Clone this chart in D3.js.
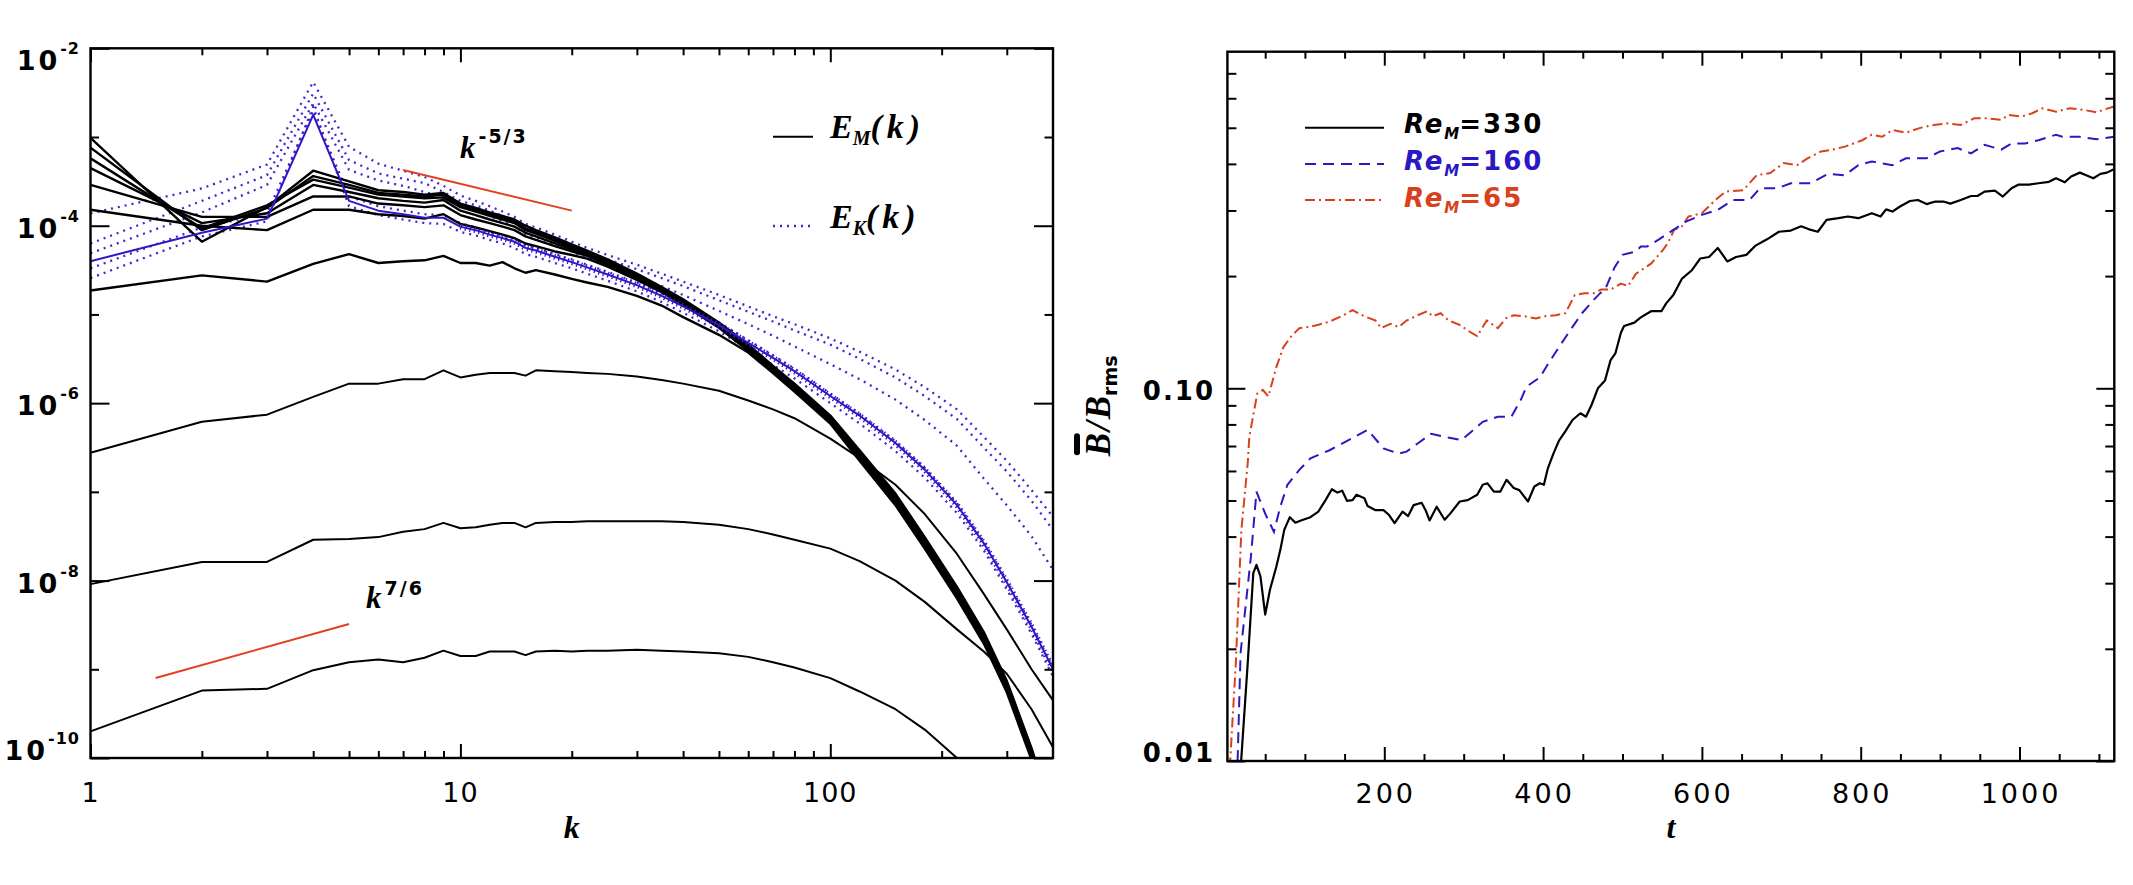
<!DOCTYPE html>
<html><head><meta charset="utf-8">
<script src="https://cdn.jsdelivr.net/npm/d3@7/dist/d3.min.js"></script>
<style>html,body{margin:0;padding:0;background:#fff;}svg{display:block;}</style>
</head><body>
<svg id="chart" width="2133" height="885"></svg>
<script>
// ================= DATA =================
// Left panel: wavenumber samples and log10 of the spectral energy
const kSamples = [1,2,3,4,5,6,7,8,9,10,11,12,13,14,15,16,18,20,22,25,30,35,40,50,60,70,80,100,120,150,180,220,260,300,350,400];
// magnetic spectra E_M(k) (black solid), log10 values
const logEM1 = [-3.01,-4.18,-3.79,-3.38,-3.50,-3.60,-3.62,-3.65,-3.63,-3.75,-3.80,-3.85,-3.89,-3.93,-4.00,-4.05,-4.13,-4.21,-4.28,-4.38,-4.54,-4.69,-4.83,-5.09,-5.34,-5.58,-5.78,-6.14,-6.53,-7.02,-7.51,-8.07,-8.58,-9.13,-9.89,-10.64];
const logEM2 = [-3.12,-4.05,-3.80,-3.44,-3.54,-3.63,-3.65,-3.67,-3.65,-3.77,-3.82,-3.87,-3.91,-3.95,-4.03,-4.07,-4.15,-4.23,-4.30,-4.40,-4.56,-4.70,-4.84,-5.11,-5.36,-5.60,-5.80,-6.16,-6.55,-7.04,-7.53,-8.09,-8.60,-9.15,-9.91,-10.66];
const logEM3 = [-3.24,-4.03,-3.77,-3.48,-3.57,-3.65,-3.67,-3.69,-3.68,-3.79,-3.84,-3.89,-3.93,-3.97,-4.05,-4.09,-4.17,-4.25,-4.31,-4.41,-4.57,-4.71,-4.85,-5.12,-5.37,-5.61,-5.81,-6.17,-6.57,-7.06,-7.55,-8.11,-8.62,-9.17,-9.93,-10.68];
const logEM4 = [-3.35,-3.97,-3.86,-3.54,-3.62,-3.69,-3.72,-3.74,-3.71,-3.83,-3.88,-3.93,-3.97,-4.01,-4.08,-4.12,-4.20,-4.27,-4.32,-4.42,-4.58,-4.72,-4.86,-5.13,-5.38,-5.62,-5.82,-6.18,-6.58,-7.08,-7.57,-8.13,-8.64,-9.19,-9.95,-10.70];
const logEM5 = [-3.54,-3.90,-3.90,-3.67,-3.67,-3.75,-3.77,-3.79,-3.77,-3.88,-3.93,-3.97,-4.01,-4.05,-4.12,-4.16,-4.23,-4.29,-4.34,-4.44,-4.59,-4.73,-4.87,-5.14,-5.39,-5.63,-5.83,-6.19,-6.60,-7.10,-7.59,-8.15,-8.66,-9.21,-9.97,-10.72];
const logEM6 = [-3.82,-4.00,-4.05,-3.82,-3.82,-3.87,-3.89,-3.92,-3.87,-3.98,-4.02,-4.06,-4.10,-4.14,-4.20,-4.23,-4.29,-4.33,-4.37,-4.46,-4.61,-4.75,-4.89,-5.15,-5.41,-5.65,-5.85,-6.21,-6.62,-7.12,-7.61,-8.17,-8.68,-9.23,-9.99,-10.74];
const logEM7 = [-4.73,-4.56,-4.63,-4.43,-4.32,-4.42,-4.40,-4.39,-4.34,-4.42,-4.42,-4.45,-4.41,-4.48,-4.53,-4.50,-4.55,-4.60,-4.64,-4.69,-4.79,-4.90,-5.03,-5.23,-5.43,-5.66,-5.87,-6.23,-6.65,-7.15,-7.64,-8.20,-8.71,-9.26,-10.02,-10.77];
const logEM8 = [-6.56,-6.21,-6.13,-5.93,-5.78,-5.78,-5.73,-5.73,-5.63,-5.71,-5.68,-5.66,-5.66,-5.66,-5.69,-5.63,-5.64,-5.65,-5.66,-5.67,-5.70,-5.74,-5.78,-5.86,-5.97,-6.07,-6.17,-6.40,-6.62,-6.92,-7.25,-7.70,-8.15,-8.55,-9.00,-9.35];
const logEM9 = [-8.04,-7.79,-7.79,-7.54,-7.53,-7.51,-7.45,-7.42,-7.35,-7.41,-7.40,-7.37,-7.35,-7.35,-7.40,-7.35,-7.34,-7.34,-7.33,-7.33,-7.33,-7.33,-7.34,-7.37,-7.42,-7.48,-7.54,-7.64,-7.78,-8.00,-8.24,-8.55,-8.80,-9.05,-9.45,-9.88];
const logEM10 = [-9.70,-9.24,-9.22,-9.01,-8.92,-8.89,-8.92,-8.87,-8.79,-8.85,-8.85,-8.80,-8.80,-8.80,-8.84,-8.80,-8.79,-8.80,-8.79,-8.79,-8.78,-8.79,-8.80,-8.82,-8.86,-8.92,-8.98,-9.10,-9.25,-9.45,-9.68,-10.00,-10.30,-10.60,-11.00,-11.40];
// kinetic spectra E_K(k): blue solid (with + symbols) and blue dotted, log10 values
const logEKsolid = [-4.40,-4.08,-3.92,-2.75,-3.72,-3.83,-3.87,-3.91,-3.91,-4.01,-4.05,-4.10,-4.14,-4.18,-4.25,-4.28,-4.35,-4.41,-4.47,-4.55,-4.67,-4.79,-4.91,-5.12,-5.32,-5.49,-5.64,-5.92,-6.14,-6.45,-6.75,-7.15,-7.58,-8.02,-8.52,-9.00];
const logEK1 = [-3.86,-3.58,-3.31,-2.38,-3.11,-3.30,-3.38,-3.45,-3.55,-3.66,-3.72,-3.78,-3.84,-3.90,-3.98,-4.02,-4.10,-4.18,-4.25,-4.33,-4.44,-4.54,-4.63,-4.78,-4.91,-5.02,-5.11,-5.27,-5.42,-5.62,-5.82,-6.07,-6.38,-6.65,-6.98,-7.28];
const logEK2 = [-4.20,-3.72,-3.43,-2.51,-3.26,-3.41,-3.47,-3.52,-3.62,-3.72,-3.77,-3.83,-3.89,-3.95,-4.03,-4.07,-4.15,-4.23,-4.30,-4.38,-4.49,-4.59,-4.68,-4.84,-4.97,-5.08,-5.18,-5.34,-5.50,-5.71,-5.92,-6.18,-6.50,-6.77,-7.10,-7.43];
const logEK3 = [-4.31,-3.85,-3.54,-2.62,-3.37,-3.49,-3.55,-3.62,-3.67,-3.78,-3.83,-3.89,-3.95,-4.01,-4.09,-4.13,-4.21,-4.29,-4.36,-4.45,-4.57,-4.68,-4.78,-4.96,-5.11,-5.24,-5.36,-5.56,-5.73,-5.96,-6.19,-6.48,-6.85,-7.15,-7.50,-7.88];
const logEK4 = [-4.48,-4.02,-3.86,-2.70,-3.67,-3.78,-3.83,-3.87,-3.88,-3.97,-4.02,-4.07,-4.11,-4.15,-4.22,-4.25,-4.32,-4.38,-4.44,-4.52,-4.64,-4.76,-4.88,-5.09,-5.29,-5.46,-5.61,-5.89,-6.12,-6.43,-6.73,-7.13,-7.56,-8.00,-8.50,-8.98];
const logEK5 = [-4.59,-4.12,-3.95,-2.66,-3.78,-3.88,-3.93,-3.97,-3.98,-4.07,-4.11,-4.16,-4.20,-4.25,-4.32,-4.35,-4.42,-4.48,-4.54,-4.62,-4.74,-4.86,-4.98,-5.19,-5.39,-5.57,-5.72,-6.00,-6.23,-6.54,-6.84,-7.24,-7.66,-8.10,-8.60,-9.08];
// reference power-law segments
const slopeMinus53K = [7, 20];
const slopeMinus53E = [4.25e-4, 1.48e-4];
const slope76K = [1.5, 5];
const slope76E = [7.96e-10, 3.24e-9];

// Right panel: time series of Bbar/Brms
const tRe330 = [19,28,35,39,44,50,56,64,69,74,81,88,95,107,117,126,134,141,147,153,160,165,175,179,189,199,206,213,223,230,237,247,252,257,266,276,283,295,305,317,324,330,338,346,354,363,370,381,389,396,401,406,413,420,428,437,447,454,461,469,478,485,491,498,502,515,523,536,549,555,564,575,587,598,609,620,632,643,656,667,682,697,712,725,735,746,757,772,784,797,814,825,832,840,849,862,872,883,894,904,913,926,939,947,956,969,979,990,999,1012,1024,1037,1046,1057,1065,1076,1084,1093,1102,1110,1119];
const bRe330 = [0.0095,0.0183,0.0319,0.0336,0.0313,0.0247,0.0288,0.0332,0.0368,0.0417,0.0451,0.0436,0.0442,0.0451,0.0467,0.0501,0.0536,0.0525,0.0531,0.0499,0.0501,0.0518,0.0507,0.0483,0.0471,0.0471,0.0457,0.0435,0.0467,0.0454,0.0486,0.0493,0.0471,0.0442,0.0481,0.0444,0.0461,0.0497,0.0501,0.0518,0.0551,0.0556,0.0528,0.0528,0.0568,0.0540,0.0533,0.0497,0.0545,0.0556,0.0551,0.0610,0.0668,0.0724,0.0766,0.0822,0.0857,0.0839,0.0902,0.100,0.105,0.119,0.124,0.141,0.147,0.150,0.155,0.161,0.161,0.169,0.178,0.197,0.207,0.223,0.225,0.238,0.219,0.225,0.228,0.241,0.251,0.263,0.265,0.272,0.267,0.263,0.283,0.286,0.289,0.286,0.295,0.289,0.302,0.298,0.307,0.318,0.320,0.312,0.317,0.317,0.313,0.320,0.328,0.328,0.337,0.339,0.327,0.344,0.352,0.352,0.355,0.358,0.366,0.357,0.370,0.379,0.373,0.366,0.376,0.379,0.387];
const tRe160 = [14,19,32,39,50,61,69,78,93,107,131,155,179,199,218,228,242,259,276,297,310,324,343,360,372,379,396,406,420,435,449,464,472,478,490,500,517,523,531,546,564,580,600,620,639,660,673,695,712,737,759,780,797,814,840,857,883,900,922,939,956,977,990,1007,1024,1046,1054,1076,1097,1119];
const bRe160 = [0.008,0.0195,0.0353,0.0528,0.0461,0.0412,0.0481,0.0551,0.0604,0.0649,0.0682,0.0726,0.0773,0.0690,0.0668,0.0676,0.0711,0.0755,0.0741,0.0726,0.0766,0.0813,0.0839,0.0839,0.0931,0.101,0.107,0.116,0.129,0.144,0.159,0.173,0.180,0.184,0.211,0.228,0.233,0.240,0.240,0.251,0.266,0.280,0.292,0.301,0.320,0.320,0.344,0.344,0.355,0.355,0.376,0.373,0.397,0.406,0.397,0.414,0.414,0.432,0.441,0.427,0.450,0.437,0.454,0.454,0.463,0.479,0.473,0.473,0.466,0.473];
const tRe65 = [4,13,20,28,30,40,47,54,64,73,83,93,105,117,131,146,160,175,189,196,208,218,228,242,254,261,271,281,295,307,317,329,343,353,363,377,391,401,416,428,440,452,464,473,485,498,507,517,536,551,557,565,575,583,600,617,630,652,669,686,703,720,733,750,763,780,802,814,827,840,857,874,892,909,926,943,960,977,986,1003,1016,1029,1046,1063,1080,1097,1106,1119];
const bRe65 = [0.0085,0.0183,0.0417,0.0630,0.0741,0.0968,0.0991,0.0951,0.114,0.129,0.138,0.145,0.146,0.148,0.151,0.156,0.162,0.156,0.152,0.145,0.149,0.146,0.152,0.157,0.161,0.156,0.159,0.152,0.148,0.142,0.138,0.152,0.145,0.154,0.157,0.156,0.154,0.156,0.157,0.159,0.178,0.180,0.180,0.184,0.184,0.191,0.188,0.203,0.216,0.235,0.245,0.266,0.272,0.289,0.295,0.320,0.337,0.340,0.373,0.378,0.402,0.397,0.414,0.432,0.436,0.445,0.463,0.479,0.473,0.493,0.485,0.499,0.509,0.514,0.509,0.530,0.530,0.525,0.541,0.536,0.547,0.564,0.552,0.564,0.559,0.550,0.559,0.570];

// ticks and labels
const kMajorTicks = [1,10,100];
const kTickLabels = ["1","10","100"];
const kMinorTicks = [2,3,4,5,6,7,8,9,20,30,40,50,60,70,80,90,200,300];
const eMajorTicks = [1e-2,1e-4,1e-6,1e-8,1e-10];
const eExpLabels = ["-2","-4","-6","-8","-10"];
const eMinorTicks = [1e-3,1e-5,1e-7,1e-9];
const tMajorTicks = [200,400,600,800,1000];
const tTickLabels = ["200","400","600","800","1000"];
const tMinorTicks = [50,100,150,250,300,350,450,500,550,650,700,750,850,900,950,1050,1100];
const bMajorTicks = [0.01,0.1];
const bTickLabels = ["0.01","0.10"];
const bMinorTicks = [0.02,0.03,0.04,0.05,0.06,0.07,0.08,0.09,0.2,0.3,0.4,0.5,0.6,0.7];
const rightLegend = ["330","160","65"];

// ================= DRAWING =================
const svg = d3.select('#chart');
const L = {left:90.5, right:1053, top:48.3, bottom:758};
const R = {left:1227.4, right:2114.3, top:51.7, bottom:761};
const BLUE = '#3416c8', BLUE_DOT = '#3c28d2', RED = '#e2401f', RED2 = '#d9401c', BLUE2 = '#2a18c2';
const SERIF = "'Liberation Serif','DejaVu Serif',serif";
const SANS = "'DejaVu Sans','Liberation Sans',sans-serif";

const kx = d3.scaleLog().domain([1,400]).range([L.left,L.right]);
const ey = d3.scaleLog().domain([1e-10,1e-2]).range([L.bottom,L.top]);
const tx = d3.scaleLinear().domain([2.4,1119.4]).range([R.left,R.right]);
const by = d3.scaleLog().domain([0.01,0.8]).range([R.bottom,R.top]);

const defs = svg.append('defs');
[['clipL',L],['clipR',R]].forEach(([id,b])=>{
  defs.append('clipPath').attr('id',id).append('rect')
    .attr('x',b.left).attr('y',b.top).attr('width',b.right-b.left).attr('height',b.bottom-b.top);
});

const toPts = (ks, logs) => ks.map((k,i)=>[k, Math.pow(10, logs[i])]);
const lineL = d3.line().x(d=>kx(d[0])).y(d=>ey(d[1]));
const lineR = d3.line().x(d=>tx(d[0])).y(d=>by(d[1]));

// ---- left panel curves ----
const gL = svg.append('g').attr('clip-path','url(#clipL)');
[logEK1,logEK2,logEK3,logEK4,logEK5].forEach(arr=>{
  gL.append('path').attr('d', lineL(toPts(kSamples,arr)))
    .attr('fill','none').attr('stroke',BLUE_DOT).attr('stroke-width',2.3)
    .attr('stroke-dasharray','2,5');
});
[logEM8,logEM9,logEM10].forEach(arr=>{
  gL.append('path').attr('d', lineL(toPts(kSamples,arr)))
    .attr('fill','none').attr('stroke','#000').attr('stroke-width',2).attr('stroke-linejoin','round');
});
[logEM1,logEM2,logEM3,logEM4,logEM5,logEM6,logEM7].forEach(arr=>{
  gL.append('path').attr('d', lineL(toPts(kSamples,arr)))
    .attr('fill','none').attr('stroke','#000').attr('stroke-width',2.4).attr('stroke-linejoin','round');
});
const ekSolidPts = toPts(kSamples, logEKsolid);
gL.append('path').attr('d', lineL(ekSolidPts))
  .attr('fill','none').attr('stroke',BLUE).attr('stroke-width',2).attr('stroke-linejoin','round');
// + symbols along the solid kinetic spectrum
gL.append('path').attr('d', lineL(ekSolidPts.filter(d=>d[0]>=10)))
  .attr('fill','none').attr('stroke',BLUE).attr('stroke-width',6).attr('stroke-dasharray','1.3,3.4');
// reference slopes
gL.append('path').attr('d', lineL(slopeMinus53K.map((k,i)=>[k,slopeMinus53E[i]])))
  .attr('stroke',RED).attr('stroke-width',2).attr('fill','none');
gL.append('path').attr('d', lineL(slope76K.map((k,i)=>[k,slope76E[i]])))
  .attr('stroke',RED).attr('stroke-width',2).attr('fill','none');

// ---- right panel curves ----
const gR = svg.append('g').attr('clip-path','url(#clipR)');
gR.append('path').attr('d', lineR(tRe65.map((t,i)=>[t,bRe65[i]])))
  .attr('fill','none').attr('stroke',RED2).attr('stroke-width',2).attr('stroke-dasharray','10,4,2,4');
gR.append('path').attr('d', lineR(tRe160.map((t,i)=>[t,bRe160[i]])))
  .attr('fill','none').attr('stroke',BLUE2).attr('stroke-width',2).attr('stroke-dasharray','11,7');
gR.append('path').attr('d', lineR(tRe330.map((t,i)=>[t,bRe330[i]])))
  .attr('fill','none').attr('stroke','#000').attr('stroke-width',2.2).attr('stroke-linejoin','round');

// ---- axes (ticks pointing inward) ----
function ticks(box, xs, ys, xMaj, xMin, yMaj, yMin, lx, lxm, ly, lym){
  const g = svg.append('g');
  const specs = [
    [d3.axisBottom(xs).tickValues(xMaj).tickSize(-lx), `translate(0,${box.bottom})`],
    [d3.axisBottom(xs).tickValues(xMin).tickSize(-lxm), `translate(0,${box.bottom})`],
    [d3.axisTop(xs).tickValues(xMaj).tickSize(-lx), `translate(0,${box.top})`],
    [d3.axisTop(xs).tickValues(xMin).tickSize(-lxm), `translate(0,${box.top})`],
    [d3.axisLeft(ys).tickValues(yMaj).tickSize(-ly), `translate(${box.left},0)`],
    [d3.axisLeft(ys).tickValues(yMin).tickSize(-lym), `translate(${box.left},0)`],
    [d3.axisRight(ys).tickValues(yMaj).tickSize(-ly), `translate(${box.right},0)`],
    [d3.axisRight(ys).tickValues(yMin).tickSize(-lym), `translate(${box.right},0)`]
  ];
  specs.forEach(([ax,tr])=>{
    const a = g.append('g').attr('transform',tr).call(ax.tickSizeOuter(0).tickFormat(''));
    a.select('.domain').remove();
    a.selectAll('text').remove();
    a.selectAll('line').attr('stroke','#000').attr('stroke-width',2);
  });
  g.append('rect').attr('x',box.left).attr('y',box.top).attr('width',box.right-box.left)
    .attr('height',box.bottom-box.top).attr('fill','none').attr('stroke','#000').attr('stroke-width',2.4);
}
ticks(L, kx, ey, kMajorTicks, kMinorTicks, eMajorTicks, eMinorTicks, 14, 7, 19, 8.5);
ticks(R, tx, by, tMajorTicks, tMinorTicks, bMajorTicks, bMinorTicks, 14, 7, 18, 9);

// ---- tick labels ----
kMajorTicks.forEach((v,i)=>{
  svg.append('text').attr('x',kx(v)).attr('y',802).attr('text-anchor','middle')
    .attr('font-family',SANS).attr('font-size',27).attr('letter-spacing',1).text(kTickLabels[i]);
});
eMajorTicks.forEach((v,i)=>{
  const yb = Math.min(Math.max(ey(v)+12, L.top+22), L.bottom+2);
  const t = svg.append('text').attr('x',80).attr('y',yb).attr('text-anchor','end')
    .attr('font-family',SANS).attr('font-weight','bold').attr('font-size',27);
  t.append('tspan').attr('letter-spacing',3).text('10');
  t.append('tspan').attr('font-size',16).attr('dy',-16).attr('letter-spacing',1).text(eExpLabels[i]);
});
tMajorTicks.forEach((v,i)=>{
  svg.append('text').attr('x',tx(v)+1.5).attr('y',803).attr('text-anchor','middle')
    .attr('font-family',SANS).attr('font-size',27).attr('letter-spacing',3).text(tTickLabels[i]);
});
bMajorTicks.forEach((v,i)=>{
  const yb = Math.min(by(v)+12, R.bottom+1);
  svg.append('text').attr('x',1215).attr('y',yb).attr('text-anchor','end')
    .attr('font-family',SANS).attr('font-weight','bold').attr('font-size',26).attr('letter-spacing',2).text(bTickLabels[i]);
});

// ---- axis titles ----
svg.append('text').attr('x',(L.left+L.right)/2).attr('y',838).attr('text-anchor','middle')
  .attr('font-family',SERIF).attr('font-weight','bold').attr('font-style','italic').attr('font-size',32).text('k');
svg.append('text').attr('x',(R.left+R.right)/2).attr('y',838).attr('text-anchor','middle')
  .attr('font-family',SERIF).attr('font-weight','bold').attr('font-style','italic').attr('font-size',32).text('t');
const yt = svg.append('g').attr('transform',`translate(1110,${(R.top+R.bottom)/2}) rotate(-90)`);
const ytt = yt.append('text').attr('x',-50).attr('y',0).attr('font-family',SERIF).attr('font-weight','bold')
  .attr('font-style','italic').attr('font-size',35);
ytt.append('tspan').text('B');
ytt.append('tspan').attr('dx',2).text('/');
ytt.append('tspan').attr('dx',2).text('B');
ytt.append('tspan').attr('font-family',SANS).attr('font-style','normal').attr('font-size',19).attr('dy',7).text('rms');
yt.append('line').attr('x1',-46).attr('x2',-30).attr('y1',-33).attr('y2',-33)
  .attr('stroke','#000').attr('stroke-width',6).attr('stroke-linecap','round');

// ---- annotations ----
function powLabel(x, y, base, exp, dy){
  const t = svg.append('text').attr('x',x).attr('y',y).attr('font-family',SERIF).attr('font-weight','bold')
    .attr('font-style','italic').attr('font-size',31);
  t.append('tspan').text(base);
  t.append('tspan').attr('font-family',SANS).attr('font-style','normal').attr('font-size',19)
    .attr('letter-spacing',2).attr('dx',3).attr('dy',dy).text(exp);
}
powLabel(460, 158, 'k', '-5/3', -15);
powLabel(366, 608, 'k', '7/6', -13);

// ---- left legend ----
svg.append('line').attr('x1',773).attr('x2',813).attr('y1',136.7).attr('y2',136.7).attr('stroke','#000').attr('stroke-width',2);
svg.append('line').attr('x1',773).attr('x2',813).attr('y1',226).attr('y2',226).attr('stroke',BLUE_DOT)
  .attr('stroke-width',2.3).attr('stroke-dasharray','2,5');
[['M',138],['K',228]].forEach(([sub,yb])=>{
  const t = svg.append('text').attr('x',830).attr('y',yb).attr('font-family',SERIF).attr('font-weight','bold')
    .attr('font-style','italic').attr('font-size',34);
  t.append('tspan').text('E');
  t.append('tspan').attr('font-size',20).attr('dy',7).text(sub);
  t.append('tspan').attr('dy',-7).attr('letter-spacing',5).text('(k)');
});

// ---- right legend ----
const legStyles = [['#000',null,127.7,133],[BLUE2,'11,7',164,170],[RED2,'10,4,2,4',200,206.5]];
legStyles.forEach(([col,dash,ly,tyb],i)=>{
  const l = svg.append('line').attr('x1',1305).attr('x2',1384).attr('y1',ly).attr('y2',ly)
    .attr('stroke',col).attr('stroke-width',2);
  if(dash) l.attr('stroke-dasharray',dash);
  const t = svg.append('text').attr('x',1404).attr('y',tyb).attr('fill',col).attr('font-family',SANS)
    .attr('font-weight','bold').attr('font-size',26);
  t.append('tspan').attr('font-style','italic').attr('letter-spacing',2).text('Re');
  t.append('tspan').attr('font-style','italic').attr('font-size',15).attr('dy',6).text('M');
  t.append('tspan').attr('dy',-6).attr('letter-spacing',2).text('=' + rightLegend[i]);
});
</script>
</body></html>
